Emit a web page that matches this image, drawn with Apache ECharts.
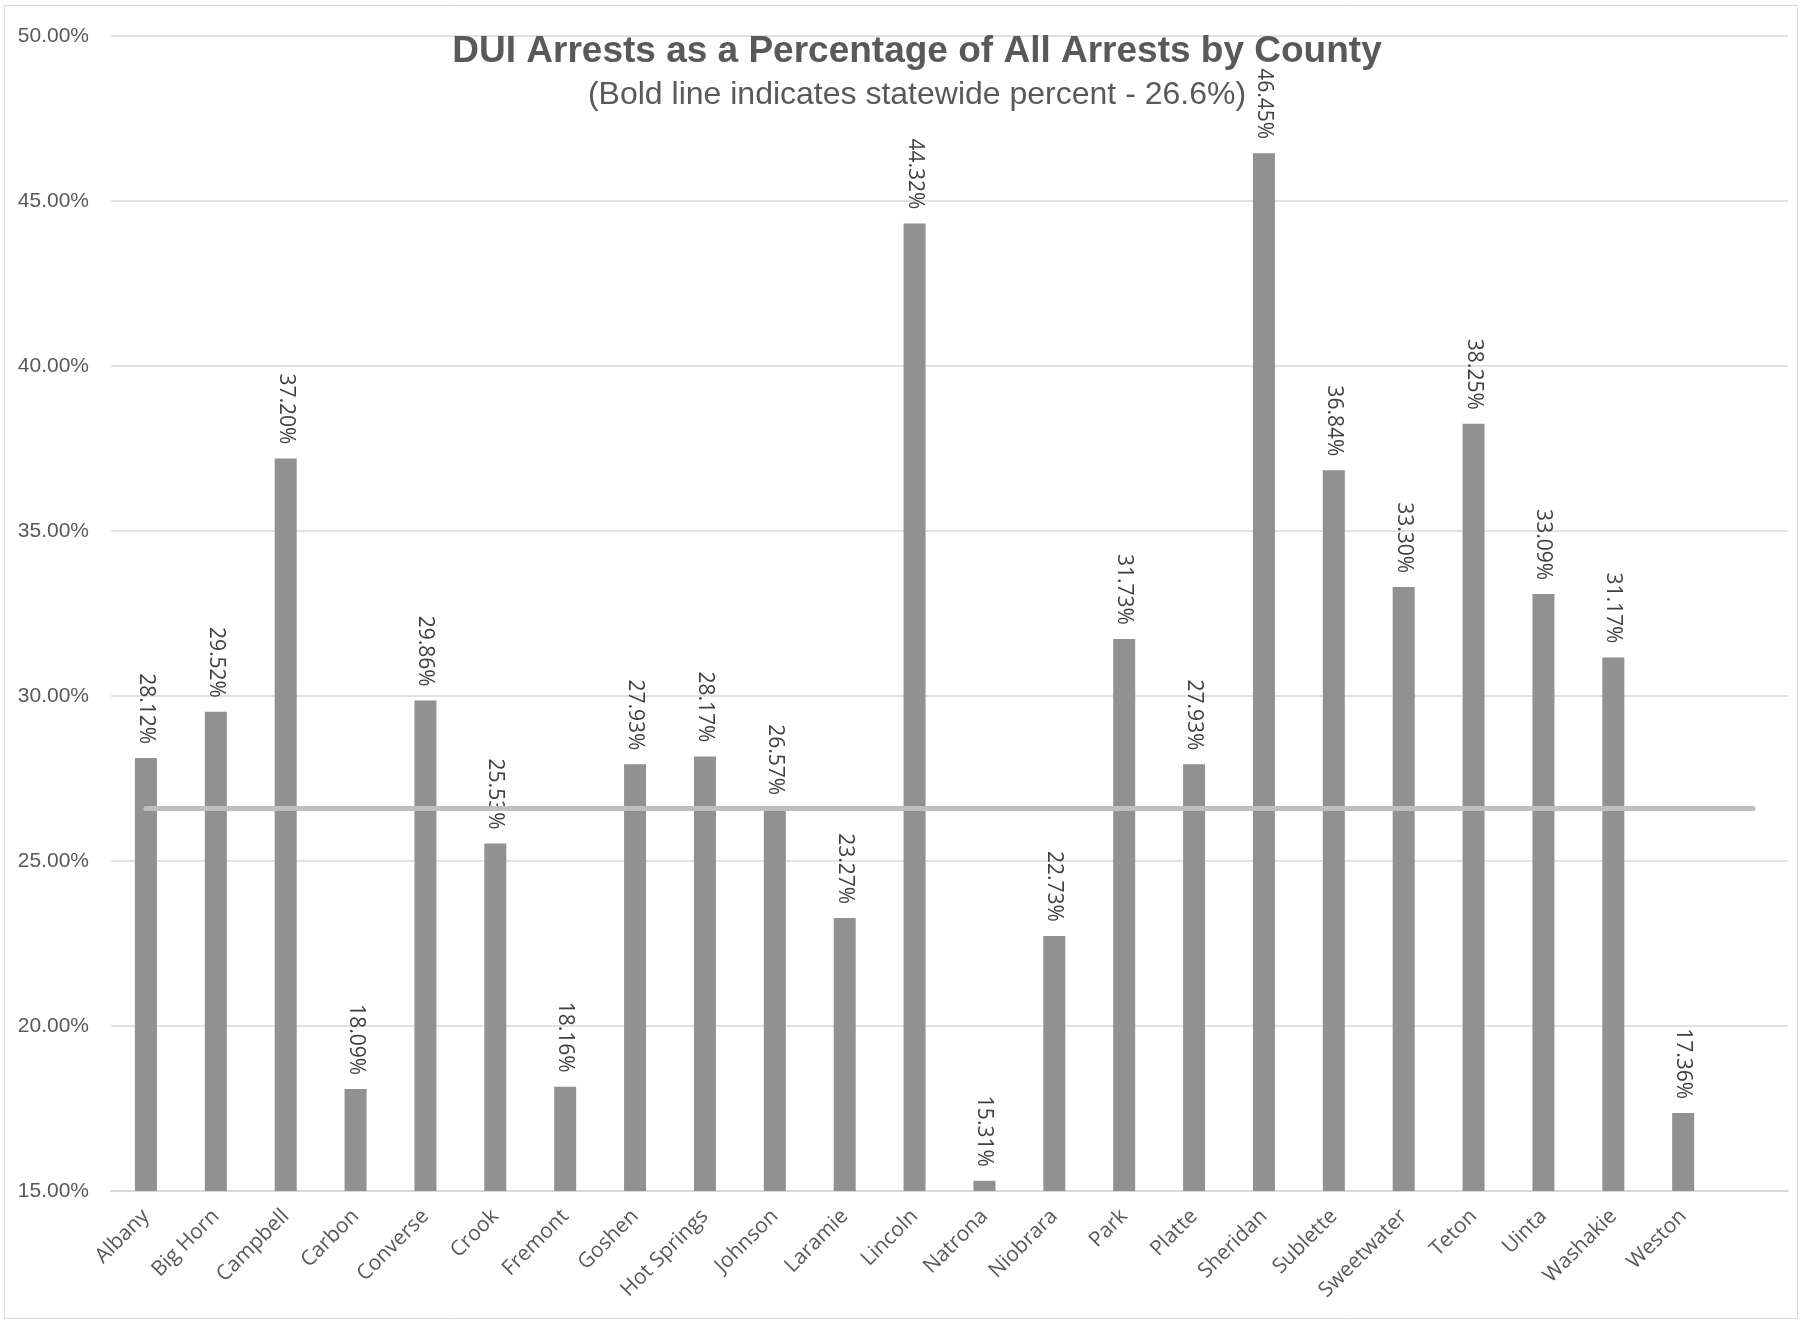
<!DOCTYPE html>
<html>
<head>
<meta charset="utf-8">
<script src="https://cdn.jsdelivr.net/npm/echarts@6/dist/echarts.min.js"></script>
<style>
html,body{margin:0;padding:0;background:#fff;}
#chart{width:1802px;height:1323px;}
</style>
</head>
<body>
<div id="chart"></div>
<script>
const counties = ["Albany","Big Horn","Campbell","Carbon","Converse","Crook","Fremont","Goshen","Hot Springs","Johnson","Laramie","Lincoln","Natrona","Niobrara","Park","Platte","Sheridan","Sublette","Sweetwater","Teton","Uinta","Washakie","Weston",""];
const duiPercent = [28.12,29.52,37.20,18.09,29.86,25.53,18.16,27.93,28.17,26.57,23.27,44.32,15.31,22.73,31.73,27.93,46.45,36.84,33.30,38.25,33.09,31.17,17.36,null];
const statewidePercent = 26.6;
const yMin = 15, yMax = 50, yInterval = 5;

const chart = echarts.init(document.getElementById('chart'));
chart.setOption({
  animation: false,
  backgroundColor: '#ffffff',
  graphic: [{
    type: 'rect',
    shape: {x: 4.5, y: 5.5, width: 1793, height: 1313},
    style: {fill: 'none', stroke: '#d9d9d9', lineWidth: 1},
    silent: true, z: -10
  }],
  title: {
    text: 'DUI Arrests as a Percentage of All Arrests by County',
    subtext: '(Bold line indicates statewide percent - 26.6%)',
    left: 912, textAlign: 'center', top: 28, itemGap: 9,
    textStyle: {fontFamily: 'Liberation Sans', fontWeight: 'bold', fontSize: 37, color: '#595959'},
    subtextStyle: {fontFamily: 'Liberation Sans', fontSize: 32, color: '#595959'}
  },
  grid: {left: 111, right: 14, top: 36, bottom: 132, containLabel: false},
  xAxis: {
    type: 'category',
    data: counties,
    boundaryGap: true,
    axisLine: {show: true, lineStyle: {color: '#d9d9d9', width: 2}},
    axisTick: {show: false},
    axisLabel: {rotate: 45, interval: 0, margin: 22, fontFamily: 'Open Sans', fontSize: 21, color: '#595959'}
  },
  yAxis: {
    type: 'value',
    min: yMin, max: yMax, interval: yInterval,
    axisLine: {show: false},
    axisTick: {show: false},
    splitLine: {lineStyle: {color: '#d9d9d9', width: 1.5}},
    axisLabel: {margin: 22, fontFamily: 'Liberation Sans', fontSize: 21, color: '#595959',
      formatter: v => v.toFixed(2) + '%'}
  },
  series: [{
    type: 'bar',
    data: duiPercent,
    barWidth: 22,
    itemStyle: {color: '#919191'},
    label: {
      show: true, position: 'top', rotate: -90, distance: 14,
      align: 'right', verticalAlign: 'middle',
      fontFamily: 'Open Sans', fontSize: 21, color: '#404040',
      formatter: p => p.value == null ? '' : p.value.toFixed(2) + '%'
    },
    markLine: {
      silent: true, symbol: 'none', animation: false,
      label: {show: false},
      lineStyle: {color: '#bfbfbf', width: 5, type: 'solid', cap: 'round'},
      data: [[{coord: [0, statewidePercent]}, {coord: [23, statewidePercent]}]]
    }
  }]
});
</script>
</body>
</html>
